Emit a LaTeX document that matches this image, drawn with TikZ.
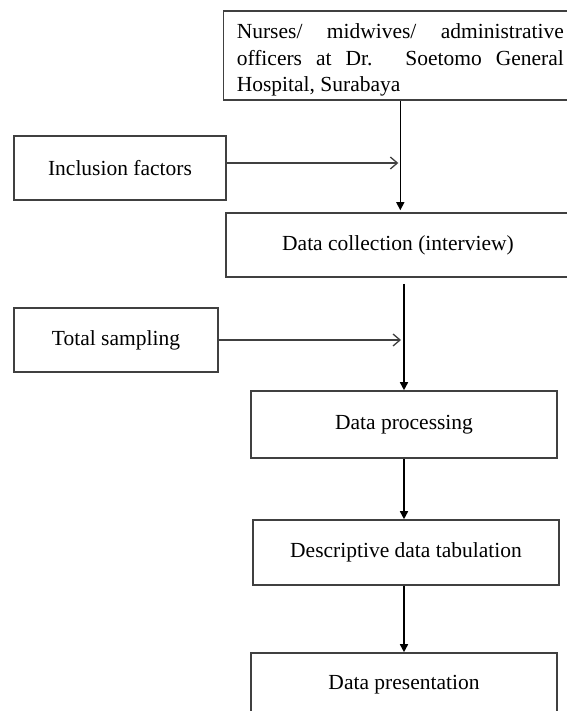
\documentclass[tikz,border=0pt]{standalone}
\usepackage{fontspec}
\setmainfont{Liberation Serif}
\usepackage{tikz}
\usetikzlibrary{positioning,calc,arrows.meta}
\definecolor{FlowGray}{HTML}{404040}

\begin{document}
\begin{tikzpicture}[x=1pt, y=-1pt,
  stage/.style={draw=FlowGray, line width=1.6pt, inner sep=0pt,
    font=\fontsize{21.5}{26.5}\selectfont},
  flow/.style={line width=1.5pt, -{Triangle[length=8pt,width=8pt]}},
  feed/.style={line width=1.4pt, color=FlowGray,
    -{Straight Barb[length=7pt,width=12pt,line width=1.3pt]}}]
  %% Page frame
  \useasboundingbox (0,0) rectangle (566,711);

  %% Main stages
  \node[stage, anchor=north west, text width=327pt, inner xsep=13.5pt,
    minimum height=89pt, align=justify,
    execute at begin node={\hyphenpenalty=10000\hbadness=10000}]
    (staff) at (222.5,10.5)
    {\rule{0pt}{24pt}Nurses/ midwives/ administrative\linebreak officers at Dr. Soetomo General\linebreak Hospital, Surabaya};
  \node[stage, minimum width=344pt, minimum height=64pt] (datacoll) at (398,245) {Data collection (interview)};
  \node[stage, minimum width=306pt, minimum height=67pt] (procdata) at (404,424.5) {Data processing};
  \node[stage, minimum width=306pt, minimum height=65pt] (tabulation) at (406,552.5) {Descriptive data tabulation};
  \node[stage, minimum width=306pt, minimum height=64pt] (presentation) at (404,685) {Data presentation};

  %% Side inputs
  \node[stage, minimum width=212pt, minimum height=64pt] (inclusion) at (120,168) {Inclusion factors};
  \node[stage, minimum width=204pt, minimum height=64pt] (sampling) at (116,340) {Total sampling};

  %% Junctions on the main line
  \path ([yshift=5pt]inclusion.east) coordinate (inclA);
  \coordinate (joinA) at (inclA -| staff.south);
  \coordinate (joinB) at (sampling.east -| procdata.north);

  %% Connectors
  \draw[flow, shorten >=2pt] (staff.south) -- (staff.south |- datacoll.north);
  \draw[feed, shorten >=2pt] (inclA) -- (joinA);
  \draw[flow, shorten <=6pt] (datacoll.south -| procdata.north) -- (procdata.north);
  \draw[feed, shorten >=3pt] (sampling.east) -- (joinB);
  \draw[flow] (procdata.south) -- (procdata.south |- tabulation.north);
  \draw[flow] (tabulation.south -| presentation.north) -- (presentation.north);
\end{tikzpicture}
\end{document}
